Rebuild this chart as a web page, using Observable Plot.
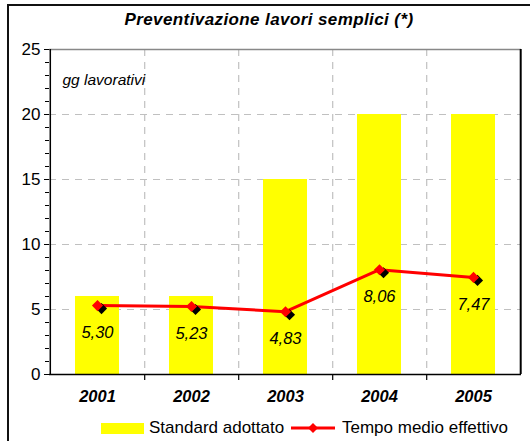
<!DOCTYPE html>
<html><head><meta charset="utf-8">
<script src="https://cdn.jsdelivr.net/npm/d3@7"></script>
<script src="https://cdn.jsdelivr.net/npm/@observablehq/plot@0.6"></script>
<style>
html,body{margin:0;padding:0;width:530px;height:441px;overflow:hidden;background:#fff;font-family:"Liberation Sans",Arial,sans-serif;}
#wrap{position:relative;width:530px;height:441px;overflow:hidden;}
#frame{position:absolute;left:7px;top:4px;width:600px;height:500px;border:2px solid #111;box-sizing:border-box;}
#title{position:absolute;left:0;width:538px;top:10px;text-align:center;font:bold italic 17px "Liberation Sans";letter-spacing:0.4px;line-height:20px;}
#chart{position:absolute;left:0;top:0;}
.leg{position:absolute;font:17px "Liberation Sans";line-height:20px;white-space:nowrap;}
</style></head>
<body><div id="wrap"><div id="frame"></div><div id="chart"></div><div id="title"></div><div id="legend"></div></div>
<script>
const title = "Preventivazione lavori semplici (*)";
const unitLabel = "gg lavorativi";
const years = ["2001","2002","2003","2004","2005"];
const standard = [6, 6, 15, 20, 20];
const effettivo = [5.30, 5.23, 4.83, 8.06, 7.47];
const yTicks = [0, 5, 10, 15, 20, 25];
const gridY = [5, 10, 15, 20];
const seriesNames = ["Standard adottato", "Tempo medio effettivo"];

const data = years.map((y, i) => ({year: y, standard: standard[i], effettivo: effettivo[i]}));
const fmt = v => v.toFixed(2).replace(".", ",");

const W = 530, H = 441, mL = 49, mR = 9, mT = 49, mB = 67;
const step = (W - mL - mR) / years.length;
const grid = {stroke: "#c0c0c0", strokeWidth: 1.2, strokeDasharray: "7,6"};

const chart = Plot.plot({
  width: W, height: H, marginLeft: mL, marginRight: mR, marginTop: mT, marginBottom: mB,
  style: {fontFamily: "Liberation Sans", background: "transparent", color: "#000"},
  x: {domain: years, paddingInner: 0.53, paddingOuter: 0.265, label: null},
  y: {domain: [0, 25], label: null},
  marks: [
    Plot.ruleY(gridY, grid),
    Plot.ruleX(years.slice(0, -1), {x: d => d, dx: step / 2, ...grid}),
    Plot.barY(data, {x: "year", y: "standard", fill: "#ffff00"}),
    Plot.ruleY([25], {stroke: "#888", strokeWidth: 1.5}),
    Plot.ruleX(years.slice(-1), {x: d => d, dx: step / 2, stroke: "#000", strokeWidth: 2}),
    Plot.ruleX(years.slice(0, 1), {x: d => d, dx: -step / 2, stroke: "#000", strokeWidth: 1.5}),
    Plot.ruleY([0], {stroke: "#000", strokeWidth: 1.5}),
    Plot.ruleX(years.slice(0, -1), {x: d => d, dx: step / 2, y1: 0, y2: 0, insetBottom: -6, stroke: "#000", strokeWidth: 1.2}),
    Plot.axisY({ticks: d3.range(0, 26), tickFormat: () => "", tickSize: 4, stroke: "#000", label: null}),
    Plot.axisY({ticks: yTicks, tickSize: 5, tickPadding: 4, fontSize: 17, stroke: "#000", label: null}),
    Plot.axisX({tickSize: 0, tickPadding: 16, fontSize: 16.5, fontWeight: "bold", fontStyle: "italic", label: null}),
    Plot.text([unitLabel], {frameAnchor: "top-left", dx: 13, dy: 24, textAnchor: "start", fontStyle: "italic", fontSize: 15.5}),
    Plot.line(data, {x: "year", y: "effettivo", stroke: "#ff0000", strokeWidth: 3}),
    Plot.dot(data, {x: "year", y: "effettivo", symbol: "diamond2", r: 5, fill: "#000", dx: 4, dy: 3}),
    Plot.dot(data, {x: "year", y: "effettivo", symbol: "diamond2", r: 5, fill: "#ff0000"}),
    Plot.text(data, {x: "year", y: "effettivo", text: d => fmt(d.effettivo), dy: 27, fontSize: 16.5, fontStyle: "italic"})
  ]
});
document.getElementById("chart").appendChild(chart);
document.getElementById("title").textContent = title;

const legend = document.getElementById("legend");
legend.innerHTML = `
<div style="position:absolute;left:101px;top:423px;width:43px;height:11px;background:#ffff00"></div>
<div class="leg" style="left:149px;top:418px">${seriesNames[0]}</div>
<svg style="position:absolute;left:289px;top:420px" width="50" height="16">
  <line x1="2" y1="8" x2="46" y2="8" stroke="#ff0000" stroke-width="3"/>
  <path d="M24,3 L29,8 L24,13 L19,8 Z" fill="#ff0000"/>
</svg>
<div class="leg" style="left:342px;top:418px">${seriesNames[1]}</div>`;
</script></body></html>
